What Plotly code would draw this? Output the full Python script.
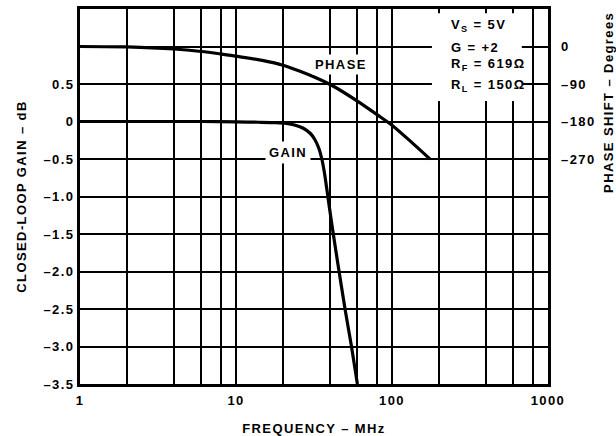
import plotly.graph_objects as go

# Closed-loop gain vs frequency
gain_freq_mhz = [1, 3, 6, 10, 14, 18, 21, 24, 27, 30, 32, 34, 35.5, 37, 38.5, 41, 45, 50, 55, 60]
gain_db = [0, 0, 0, -0.005, -0.01, -0.015, -0.025, -0.05, -0.09, -0.16, -0.24, -0.36,
           -0.5, -0.7, -0.95, -1.35, -1.9, -2.5, -3.0, -3.5]

# Phase shift vs frequency
phase_freq_mhz = [1, 2, 4, 6, 8, 10, 15, 20, 26, 32, 41, 60, 82, 100, 130, 175]
phase_deg = [0, -1, -6, -12, -18, -23, -34, -45, -60, -74, -93, -131, -166, -189, -226, -270]

# Axis ticks
gain_ticks = [-3.5, -3.0, -2.5, -2.0, -1.5, -1.0, -0.5, 0, 0.5]
gain_tick_labels = ["–3.5", "–3.0", "–2.5", "–2.0", "–1.5", "–1.0", "–0.5", "0", "0.5"]
gain_extra_grid = [1.0]
phase_ticks = [0, -90, -180, -270]
phase_tick_labels = ["0", "–90", "–180", "–270"]
freq_ticks = [1, 10, 100, 1000]
freq_tick_labels = ["1", "10", "100", "1000"]
freq_minor_grid = [2, 4, 6, 8, 20, 40, 60, 80, 200, 400, 600, 800]

FONT = "Liberation Sans, Arial, Helvetica, sans-serif"
INK = "#000000"
GRID = "#000000"


def spaced(s):
    return f'<span style="letter-spacing:1.4px"><b>{s}</b></span>'


fig = go.Figure()
fig.add_trace(go.Scatter(
    x=gain_freq_mhz, y=gain_db, mode="lines",
    line=dict(color=INK, width=3.2, shape="spline", smoothing=0.5),
    showlegend=False, hoverinfo="skip",
))
fig.add_trace(go.Scatter(
    x=phase_freq_mhz, y=phase_deg, mode="lines", yaxis="y2",
    line=dict(color=INK, width=3.2, shape="spline", smoothing=0.6),
    showlegend=False, hoverinfo="skip",
))

tickfont = dict(family=FONT, size=13, color=INK)
grid_style = dict(showgrid=True, gridcolor=GRID, gridwidth=1.5)

fig.update_layout(
    width=616, height=436,
    margin=dict(l=80, r=68, t=9, b=52, autoexpand=False),
    paper_bgcolor="white", plot_bgcolor="white",
    font=dict(family=FONT, size=13, color=INK),
    xaxis=dict(
        type="log", range=[0, 3], automargin=False,
        tickmode="array", tickvals=freq_ticks,
        ticktext=[spaced(t) for t in freq_tick_labels],
        ticks="", ticklabelstandoff=2, tickfont=tickfont,
        **grid_style,
        minor=dict(tickmode="array", tickvals=freq_minor_grid, ticks="",
                   **grid_style),
        showline=True, linecolor=INK, linewidth=3, mirror=True,
        zeroline=False,
        title=dict(text=spaced("FREQUENCY – MHz"),
                   font=dict(family=FONT, size=13, color=INK), standoff=18),
    ),
    yaxis=dict(
        range=[-3.5, 1.5], automargin=False,
        tickmode="array", tickvals=gain_ticks,
        ticktext=[spaced(t) for t in gain_tick_labels],
        ticks="", ticklabelstandoff=0, tickfont=tickfont,
        **grid_style,
        minor=dict(tickmode="array", tickvals=gain_extra_grid, ticks="",
                   **grid_style),
        showline=True, linecolor=INK, linewidth=3, mirror=True,
        zeroline=False,
        title=dict(text=spaced("CLOSED-LOOP GAIN – dB"),
                   font=dict(family=FONT, size=13, color=INK), standoff=14),
    ),
    yaxis2=dict(
        overlaying="y", side="right", automargin=False,
        range=[-810, 90],
        tickmode="array", tickvals=phase_ticks,
        ticktext=[spaced(t) for t in phase_tick_labels],
        ticks="", ticklabelstandoff=12, tickfont=tickfont,
        showgrid=False, zeroline=False, showline=False,
    ),
)

# White panel holding the test conditions
fig.add_shape(type="rect", xref="paper", yref="paper",
              x0=0.752, x1=0.944, y0=0.755, y1=0.989,
              fillcolor="white", line=dict(width=0), layer="above")

cond_lines = ["V<sub>S</sub> = 5V", "G = +2", "R<sub>F</sub> = 619Ω", "R<sub>L</sub> = 150Ω"]
cond_y = [0.955, 0.897, 0.852, 0.797]
for txt, yy in zip(cond_lines, cond_y):
    fig.add_annotation(xref="paper", yref="paper", x=0.789, y=yy,
                       xanchor="left", yanchor="middle", showarrow=False,
                       text=spaced(txt),
                       font=dict(family=FONT, size=13, color=INK))

# Curve labels
fig.add_annotation(xref="paper", yref="paper", x=0.557, y=0.853,
                   xanchor="center", yanchor="middle", showarrow=False,
                   text=spaced("PHASE"), bgcolor="white", borderpad=2,
                   font=dict(family=FONT, size=13, color=INK))
fig.add_annotation(xref="paper", yref="paper", x=0.4438, y=0.618,
                   xanchor="center", yanchor="middle", showarrow=False,
                   text=spaced("GAIN"), bgcolor="white", borderpad=3,
                   font=dict(family=FONT, size=13, color=INK))

# Right-hand axis title
fig.add_annotation(xref="paper", yref="paper", x=1.128, y=0.752,
                   xanchor="center", yanchor="middle", showarrow=False,
                   textangle=-90, text=spaced("PHASE SHIFT – Degrees"),
                   font=dict(family=FONT, size=13, color=INK))

fig.write_html("out.html")
